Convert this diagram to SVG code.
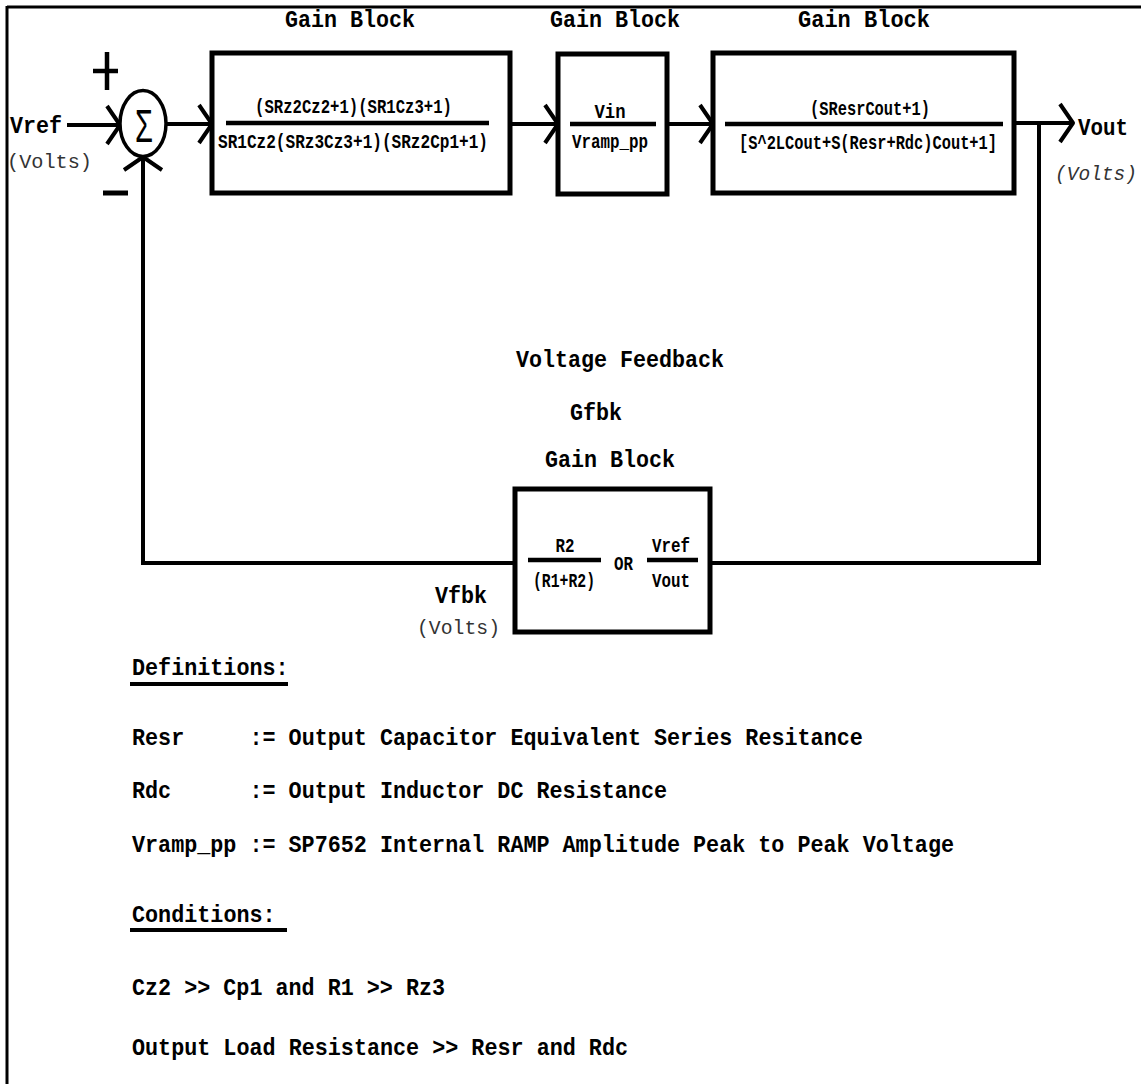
<svg xmlns="http://www.w3.org/2000/svg" width="1141" height="1084" viewBox="0 0 1141 1084">
<style>
.t{font-family:"Liberation Mono","DejaVu Sans Mono",monospace;font-weight:bold;fill:#000}
.title{font-size:24px;text-anchor:middle}
.f{font-size:21px;text-anchor:middle}
.lbl{font-size:24px}
.volts{font-family:"Liberation Mono","DejaVu Sans Mono",monospace;font-size:21px;fill:#333}
.def{font-size:24px}
.box{fill:none;stroke:#000;stroke-width:5}
.bar{stroke:#000;stroke-width:4.5}
.wire{fill:none;stroke:#000;stroke-width:4}
</style>
<defs>
<marker id="chev" markerUnits="userSpaceOnUse" viewBox="-18 -24 22 48" refX="0" refY="0" markerWidth="22" markerHeight="48" orient="auto">
<path d="M-13,-19 L0,0 L-13,19" fill="none" stroke="#000" stroke-width="4" stroke-linejoin="round"/>
</marker>
</defs>
<rect x="0" y="0" width="1141" height="1084" fill="#fff"/>
<g id="border">
<line x1="7" y1="7" x2="1141" y2="7" stroke="#000" stroke-width="3"/>
<line x1="7" y1="6" x2="7" y2="1084" stroke="#000" stroke-width="3"/>
</g>
<g id="connectors">
<line class="wire" x1="67" y1="125" x2="120" y2="125" marker-end="url(#chev)"/>
<line class="wire" x1="166" y1="124" x2="212" y2="124" marker-end="url(#chev)"/>
<line class="wire" x1="512" y1="124" x2="558" y2="124" marker-end="url(#chev)"/>
<line class="wire" x1="667" y1="124" x2="713" y2="124" marker-end="url(#chev)"/>
<line class="wire" x1="1014" y1="123" x2="1073" y2="123" marker-end="url(#chev)"/>
<polyline class="wire" points="1039,123 1039,563 710,563"/>
<polyline class="wire" points="515,563 143,563 143,157" marker-end="url(#chev)"/>
</g>
<g id="sum">
<ellipse cx="143" cy="123.5" rx="23" ry="33" fill="#fff" stroke="#000" stroke-width="3.5"/>
<text x="144" y="142" font-family="Liberation Sans,Arial,sans-serif" font-size="46" text-anchor="middle" textLength="18" lengthAdjust="spacingAndGlyphs">Σ</text>
<line x1="93" y1="71" x2="118" y2="71" stroke="#000" stroke-width="4.5"/>
<line x1="107" y1="52" x2="107" y2="90" stroke="#000" stroke-width="4.5"/>
<line x1="103" y1="193" x2="128" y2="193" stroke="#000" stroke-width="5"/>
</g>
<g id="vref">
<text class="t lbl" x="10" y="133" textLength="52" lengthAdjust="spacingAndGlyphs">Vref</text>
<text class="volts" x="7" y="168" textLength="85" lengthAdjust="spacingAndGlyphs">(Volts)</text>
</g>
<g id="gain1">
<text class="t title" x="350" y="27" textLength="130" lengthAdjust="spacingAndGlyphs">Gain Block</text>
<rect class="box" x="212" y="53" width="298" height="140"/>
<line class="bar" x1="226" y1="123" x2="489" y2="123"/>
<text class="t f" x="353.5" y="113" textLength="197" lengthAdjust="spacingAndGlyphs">(SRz2Cz2+1)(SR1Cz3+1)</text>
<text class="t f" x="353" y="148" textLength="270" lengthAdjust="spacingAndGlyphs">SR1Cz2(SRz3Cz3+1)(SRz2Cp1+1)</text>
</g>
<g id="gain2">
<text class="t title" x="615" y="27" textLength="130" lengthAdjust="spacingAndGlyphs">Gain Block</text>
<rect class="box" x="558" y="54" width="109" height="140"/>
<line class="bar" x1="570" y1="124" x2="656" y2="124"/>
<text class="t f" x="610" y="118" textLength="31" lengthAdjust="spacingAndGlyphs">Vin</text>
<text class="t f" x="610" y="148" textLength="76" lengthAdjust="spacingAndGlyphs">Vramp_pp</text>
</g>
<g id="gain3">
<text class="t title" x="864" y="27" textLength="132" lengthAdjust="spacingAndGlyphs">Gain Block</text>
<rect class="box" x="713" y="53" width="301" height="140"/>
<line class="bar" x1="725" y1="124" x2="1003" y2="124"/>
<text class="t f" x="870" y="115" textLength="120" lengthAdjust="spacingAndGlyphs">(SResrCout+1)</text>
<text class="t f" x="868" y="149" textLength="258" lengthAdjust="spacingAndGlyphs">[S^2LCout+S(Resr+Rdc)Cout+1]</text>
</g>
<g id="vout">
<text class="t lbl" x="1078" y="135" textLength="50" lengthAdjust="spacingAndGlyphs">Vout</text>
<text class="volts" x="1055" y="180" font-style="italic" textLength="82" lengthAdjust="spacingAndGlyphs">(Volts)</text>
</g>
<g id="feedback">
<text class="t title" x="620" y="367" textLength="208" lengthAdjust="spacingAndGlyphs">Voltage Feedback</text>
<text class="t title" x="596" y="420" textLength="52" lengthAdjust="spacingAndGlyphs">Gfbk</text>
<text class="t title" x="610" y="467" textLength="130" lengthAdjust="spacingAndGlyphs">Gain Block</text>
<rect class="box" x="515" y="489" width="195" height="143"/>
<line class="bar" x1="528" y1="560" x2="601" y2="560"/>
<text class="t f" x="565" y="552" textLength="19" lengthAdjust="spacingAndGlyphs">R2</text>
<text class="t f" x="564" y="587" textLength="62" lengthAdjust="spacingAndGlyphs">(R1+R2)</text>
<text class="t f" x="623.5" y="570" textLength="19" lengthAdjust="spacingAndGlyphs">OR</text>
<line class="bar" x1="647" y1="560" x2="698" y2="560"/>
<text class="t f" x="671" y="552" textLength="38" lengthAdjust="spacingAndGlyphs">Vref</text>
<text class="t f" x="671" y="587" textLength="38" lengthAdjust="spacingAndGlyphs">Vout</text>
</g>
<g id="vfbk">
<text class="t lbl" x="435" y="603" textLength="52" lengthAdjust="spacingAndGlyphs">Vfbk</text>
<text class="volts" x="417" y="634" textLength="83" lengthAdjust="spacingAndGlyphs">(Volts)</text>
</g>
<g id="notes">
<text class="t def" x="132" y="675" textLength="156.6" lengthAdjust="spacingAndGlyphs">Definitions:</text>
<line x1="130" y1="684" x2="288" y2="684" stroke="#000" stroke-width="4"/>
<text class="t def" x="132" y="745" xml:space="preserve" textLength="730.8" lengthAdjust="spacingAndGlyphs">Resr     := Output Capacitor Equivalent Series Resitance</text>
<text class="t def" x="132" y="798" xml:space="preserve" textLength="535" lengthAdjust="spacingAndGlyphs">Rdc      := Output Inductor DC Resistance</text>
<text class="t def" x="132" y="852" xml:space="preserve" textLength="822" lengthAdjust="spacingAndGlyphs">Vramp_pp := SP7652 Internal RAMP Amplitude Peak to Peak Voltage</text>
<text class="t def" x="132" y="922" textLength="143.6" lengthAdjust="spacingAndGlyphs">Conditions:</text>
<line x1="130" y1="930" x2="287" y2="930" stroke="#000" stroke-width="4"/>
<text class="t def" x="132" y="995" textLength="313" lengthAdjust="spacingAndGlyphs">Cz2 &gt;&gt; Cp1 and R1 &gt;&gt; Rz3</text>
<text class="t def" x="132" y="1055" textLength="496" lengthAdjust="spacingAndGlyphs">Output Load Resistance &gt;&gt; Resr and Rdc</text>
</g>
</svg>
